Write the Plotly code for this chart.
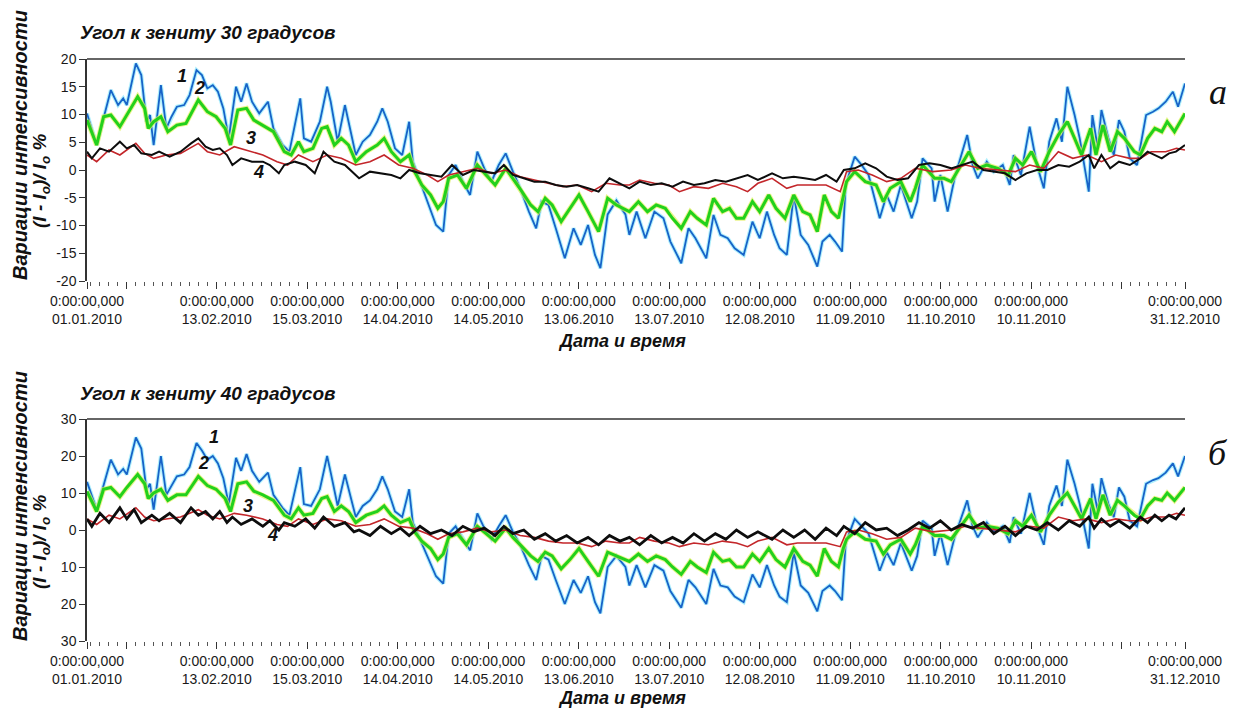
import plotly.graph_objects as go

# ---------------- data (day of year 2010, 0 = 01.01.2010) ----------------
BLUE_DAYS = [0, 3.2, 7.9, 10.3, 12.0, 13.2, 16.2, 18.0, 19.7, 20.9,
             22.1, 24.5, 26.3, 28.0, 29.8, 32.2, 34.0, 36.3, 38.1, 39.9,
             41.7, 43.4, 45.2, 47.0, 49.4, 51.1, 52.9, 54.7, 57.1, 60.0,
             61.8, 64.8, 67.1, 68.9, 70.7, 71.9, 74.3, 77.2, 79.6, 80.8,
             83.1, 85.5, 87.3, 89.1, 91.4, 93.8, 96.2, 97.9, 99.7, 102.1,
             104.5, 106.8, 108.0, 110.4, 113.3, 115.7, 118.1, 119.9, 122.2, 124.6,
             127.0, 129.4, 131.7, 134.1, 136.5, 138.8, 141.2, 143.6, 146.5, 148.9,
             150.7, 153.0, 155.4, 158.4, 161.3, 163.7, 166.1, 168.4, 170.2, 172.6,
             175.5, 178.5,
             179.8, 182.2, 185.1, 188.1, 191.1, 193.4, 197.0, 199.4, 201.7, 205.3,
             207.7, 210.0, 212.4, 214.7, 217.7, 220.6, 223.0, 225.4, 227.8, 229.6,
             232.0, 234.3, 236.6, 239.1, 242.1, 243.8, 246.2, 248.0, 250.3, 251.5,
             254.5, 256.8, 259.1, 262.8, 265.1, 267.4, 269.8, 273.4, 275.2, 277.0,
             280.0, 281.0, 282.9, 285.3, 287.6, 291.8, 293.6, 295.3, 298.3, 300.6,
             303.6, 305.9, 307.2, 309.6, 312.5, 314.9, 317.2, 319.0, 321.4, 323.2,
             325.0, 327.4, 329.1, 332.1, 333.3, 335.1, 336.3, 338.6, 340.4, 342.1,
             343.9, 345.7, 348.1, 351.1, 353.4, 355.2, 357.6, 360.0, 361.7, 364]

BLUE_30 = [10.2, 4.5, 14.4, 11.7, 12.9, 11.7, 19.2, 17.1, 8.7, 9.9,
           4.5, 15.3, 7.5, 9.6, 11.4, 11.7, 13.5, 18.0, 17.1, 14.7,
           15.3, 14.1, 11.1, 5.7, 15.0, 12.3, 15.6, 12.3, 10.2, 12.3,
           7.5, 4.5, 3.3, 8.1, 12.9, 5.7, 5.1, 8.7, 15.0, 12.3,
           5.1, 11.7, 6.9, 2.7, 5.1, 6.3, 8.7, 11.1, 8.7, 3.9,
           2.7, 8.7, 1.5, -2.1, -6.3, -9.9, -11.1, -0.9, 0.9, -2.1,
           -4.5, 3.3, 0.3, -2.1, 0.9, 3.0, -0.3, -3.3, -7.5, -10.5,
           -5.7, -6.3, -10.5, -15.9, -10.5, -13.5, -9.9, -15.3, -17.7, -8.0,
           -5.5, -8.0,
           -11.7, -7.5, -12.3, -7.5, -8.7, -12.9, -16.8, -10.5, -12.3, -15.9,
           -8.1, -11.7, -12.3, -14.1, -15.3, -9.3, -12.3, -7.5, -11.7, -14.1,
           -15.3, -4.5, -11.7, -13.5, -17.4, -12.9, -11.7, -12.9, -14.7, -2.7,
           2.4, 0.9, -0.9, -8.7, -4.5, -7.5, -2.7, -8.7, -5.7, 2.1,
           0.3, -5.7, -0.9, -7.5, -1.5, 6.3, 0.9, -1.5, 1.5, -0.3,
           0.9, -2.7, 2.7, -0.9, 7.8, 0.9, -3.3, 5.1, 9.3, 5.1,
           15.0, 9.9, 5.7, -3.9, 9.9, 3.9, 10.8, 5.7, 2.7, 9.0,
           6.9, 2.1, 0.9, 9.9, 10.5, 11.1, 12.3, 14.1, 11.4, 15.6]

BLUE_40 = [13, 5.5, 19, 15, 16.5, 15, 25, 22, 11, 12.5,
           5.5, 20, 9.5, 12, 14.5, 15, 17, 23.5, 21.5, 19,
           20, 18, 14, 7, 19.5, 16, 20.5, 16, 13, 15.5,
           9.5, 6, 4, 10.5, 17, 7, 6.5, 11, 20, 15.5,
           6.5, 15, 9, 3.5, 6.5, 8, 11, 14.5, 11, 5,
           3.5, 11, 2, -2.5, -8, -12.5, -14.5, -1, 1, -2.5,
           -5.5, 4.5, 0.5, -2.5, 1, 4, -0.5, -4, -9.5, -13.5,
           -7, -8, -13.5, -20, -13.5, -17, -12.5, -19.5, -22.5, -10,
           -7, -10,
           -15, -9.5, -15.5, -9.5, -11, -16.5, -21, -13.5, -15.5, -20,
           -10.5, -15, -15.5, -18, -19.5, -12, -15.5, -9.5, -15, -18,
           -19.5, -6, -15, -17, -22, -16.5, -15, -16.5, -19, -3.5,
           3, 1, -1, -11, -6, -9.5, -3.5, -11, -7, 2.5,
           0.5, -7, -1, -9.5, -2, 8, 1, -2, 2, -0.5,
           1, -3.5, 3.5, -1, 10, 1, -4, 6.5, 12, 6.5,
           19, 12.5, 7, -5, 12.5, 5, 14, 7, 3.5, 11.5,
           9, 2.5, 1, 12.5, 13.5, 14, 15.5, 18, 14.5, 20]

GREEN_DAYS = [0, 3.2, 5.5, 7.9, 10.9, 13.2, 16.8, 19.1, 20.3, 22.1,
              24.5, 26.8, 29.8, 32.8, 36.9, 39.9, 42.8, 45.8, 47.6, 50.0,
              52.9, 55.3, 58.3, 61.8, 65.4, 67.7, 70.1, 71.9, 74.9, 77.8,
              79.6, 82.0, 84.3, 86.7, 89.1, 92.6, 96.2, 98.5, 100.9, 103.9,
              106.8, 108.6, 111.0, 113.9, 116.3, 118.1, 119.9, 122.8, 125.8, 129.4,
              132.3, 135.3, 138.8, 141.2, 144.2, 147.1, 149.5, 151.9, 154.2, 157.2,
              160.1, 163.1, 166.1, 169.6, 172.6, 175.5, 179.8, 182.8, 185.8, 188.7,
              191.7, 194.1, 197.0, 200.0, 202.3, 205.3, 207.7, 210.7, 213.0, 215.3,
              217.7, 220.6, 223.0, 226.0, 228.4, 231.4, 234.3, 237.3, 239.7, 242.1,
              244.4, 246.8, 249.1, 250.7, 251.8, 254.5, 258.0, 261.6, 264.0, 266.3,
              269.8, 272.9, 274.6, 277.0, 281.0, 284.1, 286.5, 292.4, 295.3, 298.3,
              301.9, 305.4, 307.8, 310.2, 313.1, 316.1, 319.0, 322.0, 325.0, 327.4,
              329.7, 332.7, 334.5, 336.8, 339.2, 341.6, 343.9, 347.2, 349.2, 351.6,
              354.0, 356.3, 358.1, 360.5, 364]

GREEN_30 = [9.0, 4.5, 9.6, 9.9, 7.8, 9.9, 13.2, 11.1, 7.5, 8.7,
            9.6, 6.9, 8.1, 8.4, 12.6, 10.5, 9.6, 7.5, 4.5, 10.8,
            11.1, 9.0, 8.1, 6.9, 3.3, 2.7, 5.1, 3.3, 3.9, 7.5,
            7.8, 4.5, 5.7, 4.5, 1.5, 3.3, 4.5, 5.7, 3.3, 1.5,
            2.7, -0.3, -2.7, -4.5, -6.9, -5.7, -1.5, -0.9, -3.3, 0.9,
            -0.9, -2.7, 0.3, -1.5, -3.9, -6.3, -7.5, -5.1, -6.3, -9.3,
            -6.9, -4.5, -7.5, -11.1, -5.1, -6.3, -7.5, -5.7, -7.5, -6.3,
            -6.9, -8.7, -10.5, -7.5, -8.7, -9.9, -5.1, -7.5, -6.9, -8.7,
            -8.7, -5.7, -7.5, -4.5, -6.9, -8.7, -4.5, -7.5, -8.1, -11.1,
            -4.5, -7.5, -8.7, -4.5, -2.1, -0.3, -2.1, -2.7, -5.7, -3.3,
            -2.1, -5.7, -3.3, 0.9, -1.5, -1.5, -2.1, 3.3, 0.3, 0.9,
            0.3, -0.9, 2.1, 0.9, 3.3, -0.3, 3.3, 6.3, 8.7, 5.7,
            2.7, 7.5, 2.7, 8.1, 3.3, 6.9, 5.7, 3.3, 2.7, 5.7,
            7.5, 6.9, 8.7, 6.9, 10.2]

GREEN_40 = [10.4, 5, 11, 11.5, 9, 11.5, 15, 12.5, 8.5, 10,
            11, 8, 9.5, 9.5, 14.5, 12, 11, 8.5, 5, 12.5,
            13, 10.5, 9.5, 8, 4, 3, 6, 4, 4.5, 8.5,
            9, 5, 6.5, 5, 2, 4, 5, 6.5, 4, 2,
            3, -0.5, -3, -5, -8, -6.5, -2, -1, -4, 1,
            -1, -3, 0.5, -2, -4.5, -7, -8.5, -6, -7, -10.5,
            -8, -5, -8.5, -12.5, -6, -7, -8.5, -6.5, -8.5, -7,
            -8, -10, -12, -8.5, -10, -11.5, -6, -8.5, -8, -10,
            -10, -6.5, -8.5, -5, -8, -10, -5, -8.5, -9.5, -12.5,
            -5, -8.5, -10, -5, -2.5, -0.5, -2.5, -3, -6.5, -4,
            -2.5, -6.5, -4, 1, -1.5, -1.5, -2.5, 4, 0.5, 1,
            0.5, -1, 2.5, 1, 4, -0.5, 4, 7.5, 10, 6.5,
            3, 8.5, 3, 9.5, 4, 8, 6.5, 4, 3, 6.5,
            8.5, 8, 10, 8, 11.5]

RED_DAYS = [0, 3.2, 7.3, 10.9, 16.2, 19.1, 22.1, 26.3, 31.0, 36.9,
            39.9, 44.0, 48.8, 52.9, 58.3, 63.0, 66.5, 70.1, 74.9, 79.6,
            84.3, 89.1, 93.8, 98.5, 103.3, 108.0, 112.8, 116.3, 119.9, 124.6,
            129.4, 134.1, 138.8, 143.6, 148.3, 153.0, 157.8, 162.5, 167.3, 172.0,
            176.7, 179.8, 183.2, 188.1, 192.9, 196.4, 201.2, 206.0, 210.7, 215.3,
            219.0, 222.4, 227.1, 232.0, 235.5, 240.3, 245.0, 249.7, 251.8, 255.7,
            260.3, 265.1, 269.8, 274.6, 280.4, 286.5, 291.2, 296.0, 301.9, 307.8,
            312.5, 317.2, 322.0, 326.8, 331.5, 336.3, 341.0, 345.7, 349.2, 352.8,
            357.6, 361.2, 364]

RED_30 = [2.7, 1.5, 3.6, 2.7, 4.8, 3.0, 2.1, 2.7, 3.0, 4.8,
          3.3, 2.7, 4.2, 3.6, 2.7, 1.5, 0.9, 2.7, 1.5, 2.7,
          2.1, 0.9, 1.5, 2.7, 0.9, 0.3, -0.9, -2.1, -0.9, -0.3,
          0.3, -0.6, 0.0, -1.2, -1.8, -2.4, -3.0, -2.7, -3.9, -2.4,
          -2.7, -2.7, -1.8, -2.4, -2.7, -3.9, -3.0, -3.3, -2.4, -3.0,
          -3.9, -2.4, -1.5, -3.3, -2.7, -2.7, -2.7, -3.9, -0.3, 0.0,
          -0.9, -2.1, -1.5, 0.3, -0.3, 0.0, 0.9, 0.3, 0.0, -0.3,
          0.9, 0.3, 3.3, 2.1, 2.7, 1.5, 2.7, 2.1, 2.1, 3.3,
          3.3, 3.9, 3.6]

RED_40 = [3, 1.5, 4, 3, 6, 3.5, 2.5, 3, 3.5, 5.5,
          4, 3, 4.5, 4, 3, 1.5, 1, 3, 1.5, 3,
          2.5, 1, 1.5, 3, 1, 0.5, -1, -2.5, -1, -0.5,
          0.5, -0.5, 0, -1.5, -2, -3, -3.5, -3.5, -4.5, -3,
          -3.5, -3.5, -2, -3, -3.5, -4.5, -3.5, -4, -3, -3.5,
          -4.5, -3, -2, -4, -3.5, -3.5, -3.5, -4.5, -0.5, 0,
          -1, -2.5, -2, 0.5, -0.5, 0, 1, 0.5, 0, -0.5,
          1, 0.5, 3.5, 2.5, 3, 2, 3, 2.5, 2.5, 3.5,
          3.5, 4.5, 4]

BLACK_DAYS = [0, 1.6, 4.3, 7.3, 10.9, 13.2, 15.6, 18.0, 21.5, 23.9,
              27.4, 31.0, 34.5, 36.9, 39.3, 41.7, 44.0, 46.4, 48.2, 51.1,
              54.7, 58.3, 60.6, 63.6, 65.4, 68.9, 72.5, 75.5, 78.4, 82.0,
              85.5, 88.5, 90.2, 93.8, 97.3, 100.9, 103.9, 106.8, 110.4, 113.9,
              117.5, 121.0, 124.6, 128.2, 131.7, 135.3, 138.2, 141.2, 144.8, 148.3,
              151.9, 155.4, 159.0, 162.5, 166.1, 169.6, 173.2, 176.7, 179.8, 183.2,
              186.9, 190.5, 194.1, 197.6, 201.2, 204.7, 208.3, 211.8, 215.3, 219.0,
              222.4, 227.1, 230.7, 234.3, 237.9, 241.4, 245.0, 248.5, 250.9, 254.5,
              258.0, 261.6, 265.1, 268.7, 272.2, 275.8, 279.3, 282.9, 286.5, 290.0,
              293.6, 297.2, 300.6, 304.3, 307.8, 311.4, 314.9, 318.4, 322.0, 325.6,
              329.1, 332.1, 333.9, 336.3, 339.2, 342.1, 345.7, 349.2, 351.6, 354.0,
              356.3, 358.7, 361.0, 364]

BLACK_30 = [3.3, 2.1, 3.9, 3.3, 5.1, 3.9, 4.5, 3.0, 2.7, 3.3,
            2.4, 3.3, 4.8, 5.7, 4.2, 3.6, 3.9, 2.7, 0.9, 2.1,
            1.5, 1.5, 0.9, -0.6, 0.9, 1.5, 0.9, -0.6, 3.3, 1.5,
            0.9, -0.6, -1.5, -0.3, -0.6, -0.9, -1.5, 0.0, -0.6, -0.9,
            -1.2, 0.9, -0.9, 0.0, -0.3, -0.6, 0.9, -0.9, -1.5, -2.1,
            -2.1, -2.7, -3.0, -2.7, -3.3, -3.9, -1.5, -2.4, -3.3, -2.1,
            -2.7, -2.4, -3.0, -2.1, -2.7, -2.4, -1.8, -2.1, -1.5, -0.9,
            -1.8, -0.6, -1.5, -1.2, -1.5, -1.8, -0.9, -2.1, 0.0, 0.3,
            1.2, 0.3, -1.2, -1.8, -1.5, 0.9, 1.2, 0.9, 0.3, 0.9,
            1.5, 0.0, -0.3, -0.6, -1.8, -0.6, 0.0, 0.0, 0.9, 0.6,
            1.5, 2.7, 0.3, 2.7, 0.3, 1.5, 0.9, 2.1, 3.3, 2.7,
            2.1, 3.0, 3.3, 4.5]

BLACK_40 = [3, 1, 4.5, 2, 6, 3, 5.5, 2, 4, 2.5,
            4.5, 2, 6, 4, 5, 3, 5, 2, 3.5, 1.5,
            3, 1, 2.5, 0, 2, 1, 3, 0.5, 3.5, 1,
            2, -0.5, 0, -1.5, 1, -1, 0.5, -1.5, 1, -1,
            0, -1.5, 1, -0.5, 0.5, -1.5, 1, -1, 0, -2.5,
            -1, -3, -1.5, -3.5, -2, -4, -1.5, -3, -2, -4,
            -1.5, -3.5, -2, -3.5, -1, -3, -1, -2.5, 0, -2,
            -0.5, -2.5, 0, -2, 0, -2.5, 0.5, -1.5, 1, -1,
            2, 0, 0.5, -1.5, 0, 2, 0.5, 2.5, 0, 1.5,
            0.5, 2, -1, 1, -1.5, 1, 0, 2, 0, 2.5,
            1, 3.5, 0.5, 3, 1, 2.5, 0.5, 3.5, 2, 4,
            2.5, 4, 3, 6]

TICK_DAYS = [0, 13, 43, 73, 103, 133, 163, 193, 223, 253, 283, 313, 343, 364]
TICK_DATES = ["01.01.2010", "", "13.02.2010", "15.03.2010", "14.04.2010", "14.05.2010",
              "13.06.2010", "13.07.2010", "12.08.2010", "11.09.2010", "11.10.2010",
              "10.11.2010", "", "31.12.2010"]
TICK_TIME = "0:00:00,000"

Y30_TICKS = [-20, -15, -10, -5, 0, 5, 10, 15, 20]
Y30_LABELS = ["-20", "-15", "-10", "-5", "0", "5", "10", "15", "20"]
Y40_TICKS = [-30, -20, -10, 0, 10, 20, 30]
Y40_LABELS = ["30", "20", "10", "0", "10", "20", "30"]

PANEL_TITLES = ["Угол к зениту 30 градусов", "Угол к зениту 40 градусов"]
PANEL_LETTERS = ["а", "б"]
Y_TITLE_1 = "Вариации интенсивности"
Y_TITLE_2 = "(I - I<sub>o</sub>)/ I<sub>o</sub> %"
X_TITLE = "Дата и время"

# ---------------- figure ----------------
W, H = 1236, 711
def px(x):
    return x / W
def py(y):
    return 1 - y / H

FONT = "Liberation Sans, Arial, sans-serif"
AX = "#333333"

fig = go.Figure()

panels = [
    dict(xa="x", ya="y", blue=BLUE_30, green=GREEN_30, red=RED_30, black=BLACK_30, bw=2.0),
    dict(xa="x2", ya="y2", blue=BLUE_40, green=GREEN_40, red=RED_40, black=BLACK_40, bw=2.8),
]

for p in panels:
    fig.add_trace(go.Scatter(x=BLUE_DAYS, y=p["blue"], mode="lines", xaxis=p["xa"], yaxis=p["ya"],
                             line=dict(color="rgba(110,225,250,0.55)", width=4), showlegend=False, hoverinfo="skip"))
    fig.add_trace(go.Scatter(x=BLUE_DAYS, y=p["blue"], mode="lines", xaxis=p["xa"], yaxis=p["ya"],
                             line=dict(color="#1763c8", width=1.8), showlegend=False))
    fig.add_trace(go.Scatter(x=GREEN_DAYS, y=p["green"], mode="lines", xaxis=p["xa"], yaxis=p["ya"],
                             line=dict(color="rgba(225,240,90,0.7)", width=5), showlegend=False, hoverinfo="skip"))
    fig.add_trace(go.Scatter(x=GREEN_DAYS, y=p["green"], mode="lines", xaxis=p["xa"], yaxis=p["ya"],
                             line=dict(color="#22d11c", width=3), showlegend=False))
    fig.add_trace(go.Scatter(x=RED_DAYS, y=p["red"], mode="lines", xaxis=p["xa"], yaxis=p["ya"],
                             line=dict(color="#c3262a", width=1.6), showlegend=False))
    fig.add_trace(go.Scatter(x=BLACK_DAYS, y=p["black"], mode="lines", xaxis=p["xa"], yaxis=p["ya"],
                             line=dict(color="#0d0d0d", width=p["bw"]), showlegend=False))

xdom = [px(87), px(1185)]
ticktext = [f"{TICK_TIME}<br>{d}" if d else " " for d in TICK_DATES]

def xaxis_cfg(anchor):
    return dict(domain=xdom, anchor=anchor, range=[0, 364], showgrid=False, zeroline=False,
                showline=False, tickmode="array", tickvals=TICK_DAYS, ticktext=ticktext,
                tickangle=0, ticks="outside", ticklen=7, tickwidth=1.2, tickcolor=AX,
                tickfont=dict(family=FONT, size=14, color="#1a1a1a"),
                minor=dict(ticks="outside", ticklen=4, tickwidth=1, tickcolor="#555",
                           tickmode="linear", tick0=1, dtick=3, showgrid=False),
                automargin=False, fixedrange=True)

def yaxis_cfg(anchor, dom, rng, tv, tt):
    return dict(domain=dom, anchor=anchor, range=rng, showgrid=False, zeroline=False,
                showline=True, linecolor=AX, linewidth=1.5, tickmode="array", tickvals=tv,
                ticktext=tt, ticks="outside", ticklen=6, tickwidth=1.2, tickcolor=AX,
                tickfont=dict(family=FONT, size=14, color="#1a1a1a"), automargin=False)

fig.update_layout(
    width=W, height=H, autosize=False,
    margin=dict(l=0, r=0, t=0, b=0),
    paper_bgcolor="white", plot_bgcolor="white",
    xaxis=xaxis_cfg("y"),
    yaxis=yaxis_cfg("x", [py(281), py(59)], [-20, 20], Y30_TICKS, Y30_LABELS),
    xaxis2=xaxis_cfg("y2"),
    yaxis2=yaxis_cfg("x2", [py(641), py(419)], [-30, 30], Y40_TICKS, Y40_LABELS),
)

# top border lines of both plot areas
for xa, ya in (("x", "y"), ("x2", "y2")):
    fig.add_shape(type="line", xref=f"{xa} domain", yref=f"{ya} domain", x0=0, x1=1, y0=1, y1=1,
                  line=dict(color=AX, width=1.5))

annotations = []
def ann(x, y, text, size, family=FONT, angle=0, xanchor="center", yanchor="middle"):
    annotations.append(dict(x=px(x), y=py(y), xref="paper", yref="paper", text=text, showarrow=False,
                            textangle=angle, xanchor=xanchor, yanchor=yanchor,
                            font=dict(family=family, size=size, color="#111111")))

offsets = [0, 361]
xtitle_y = [341, 698]
for i, off in enumerate(offsets):
    ann(78, 32 + off, f"<b><i>{PANEL_TITLES[i]}</i></b>", 19, xanchor="left")
    ann(20, 145 + off, f"<b><i>{Y_TITLE_1}</i></b>", 20, angle=-90)
    ann(41, 181 + off, f"<b><i>{Y_TITLE_2}</i></b>", 19, angle=-90)
    ann(622, xtitle_y[i], f"<b><i>{X_TITLE}</i></b>", 18)
    ann(1218, 92 + off, f"<i>{PANEL_LETTERS[i]}</i>", 36, family="Liberation Serif, DejaVu Serif, serif")

# curve number labels
for (x, y, t) in [(182, 76, "1"), (199, 88, "2"), (251, 138, "3"), (258, 172, "4"),
                  (214, 437, "1"), (203, 463, "2"), (248, 506, "3"), (272, 535, "4")]:
    ann(x, y, f"<b><i>{t}</i></b>", 18)

fig.update_layout(annotations=annotations)

fig.write_html("out.html", config={"displayModeBar": False},
               post_script="document.body.style.margin='0px';")
